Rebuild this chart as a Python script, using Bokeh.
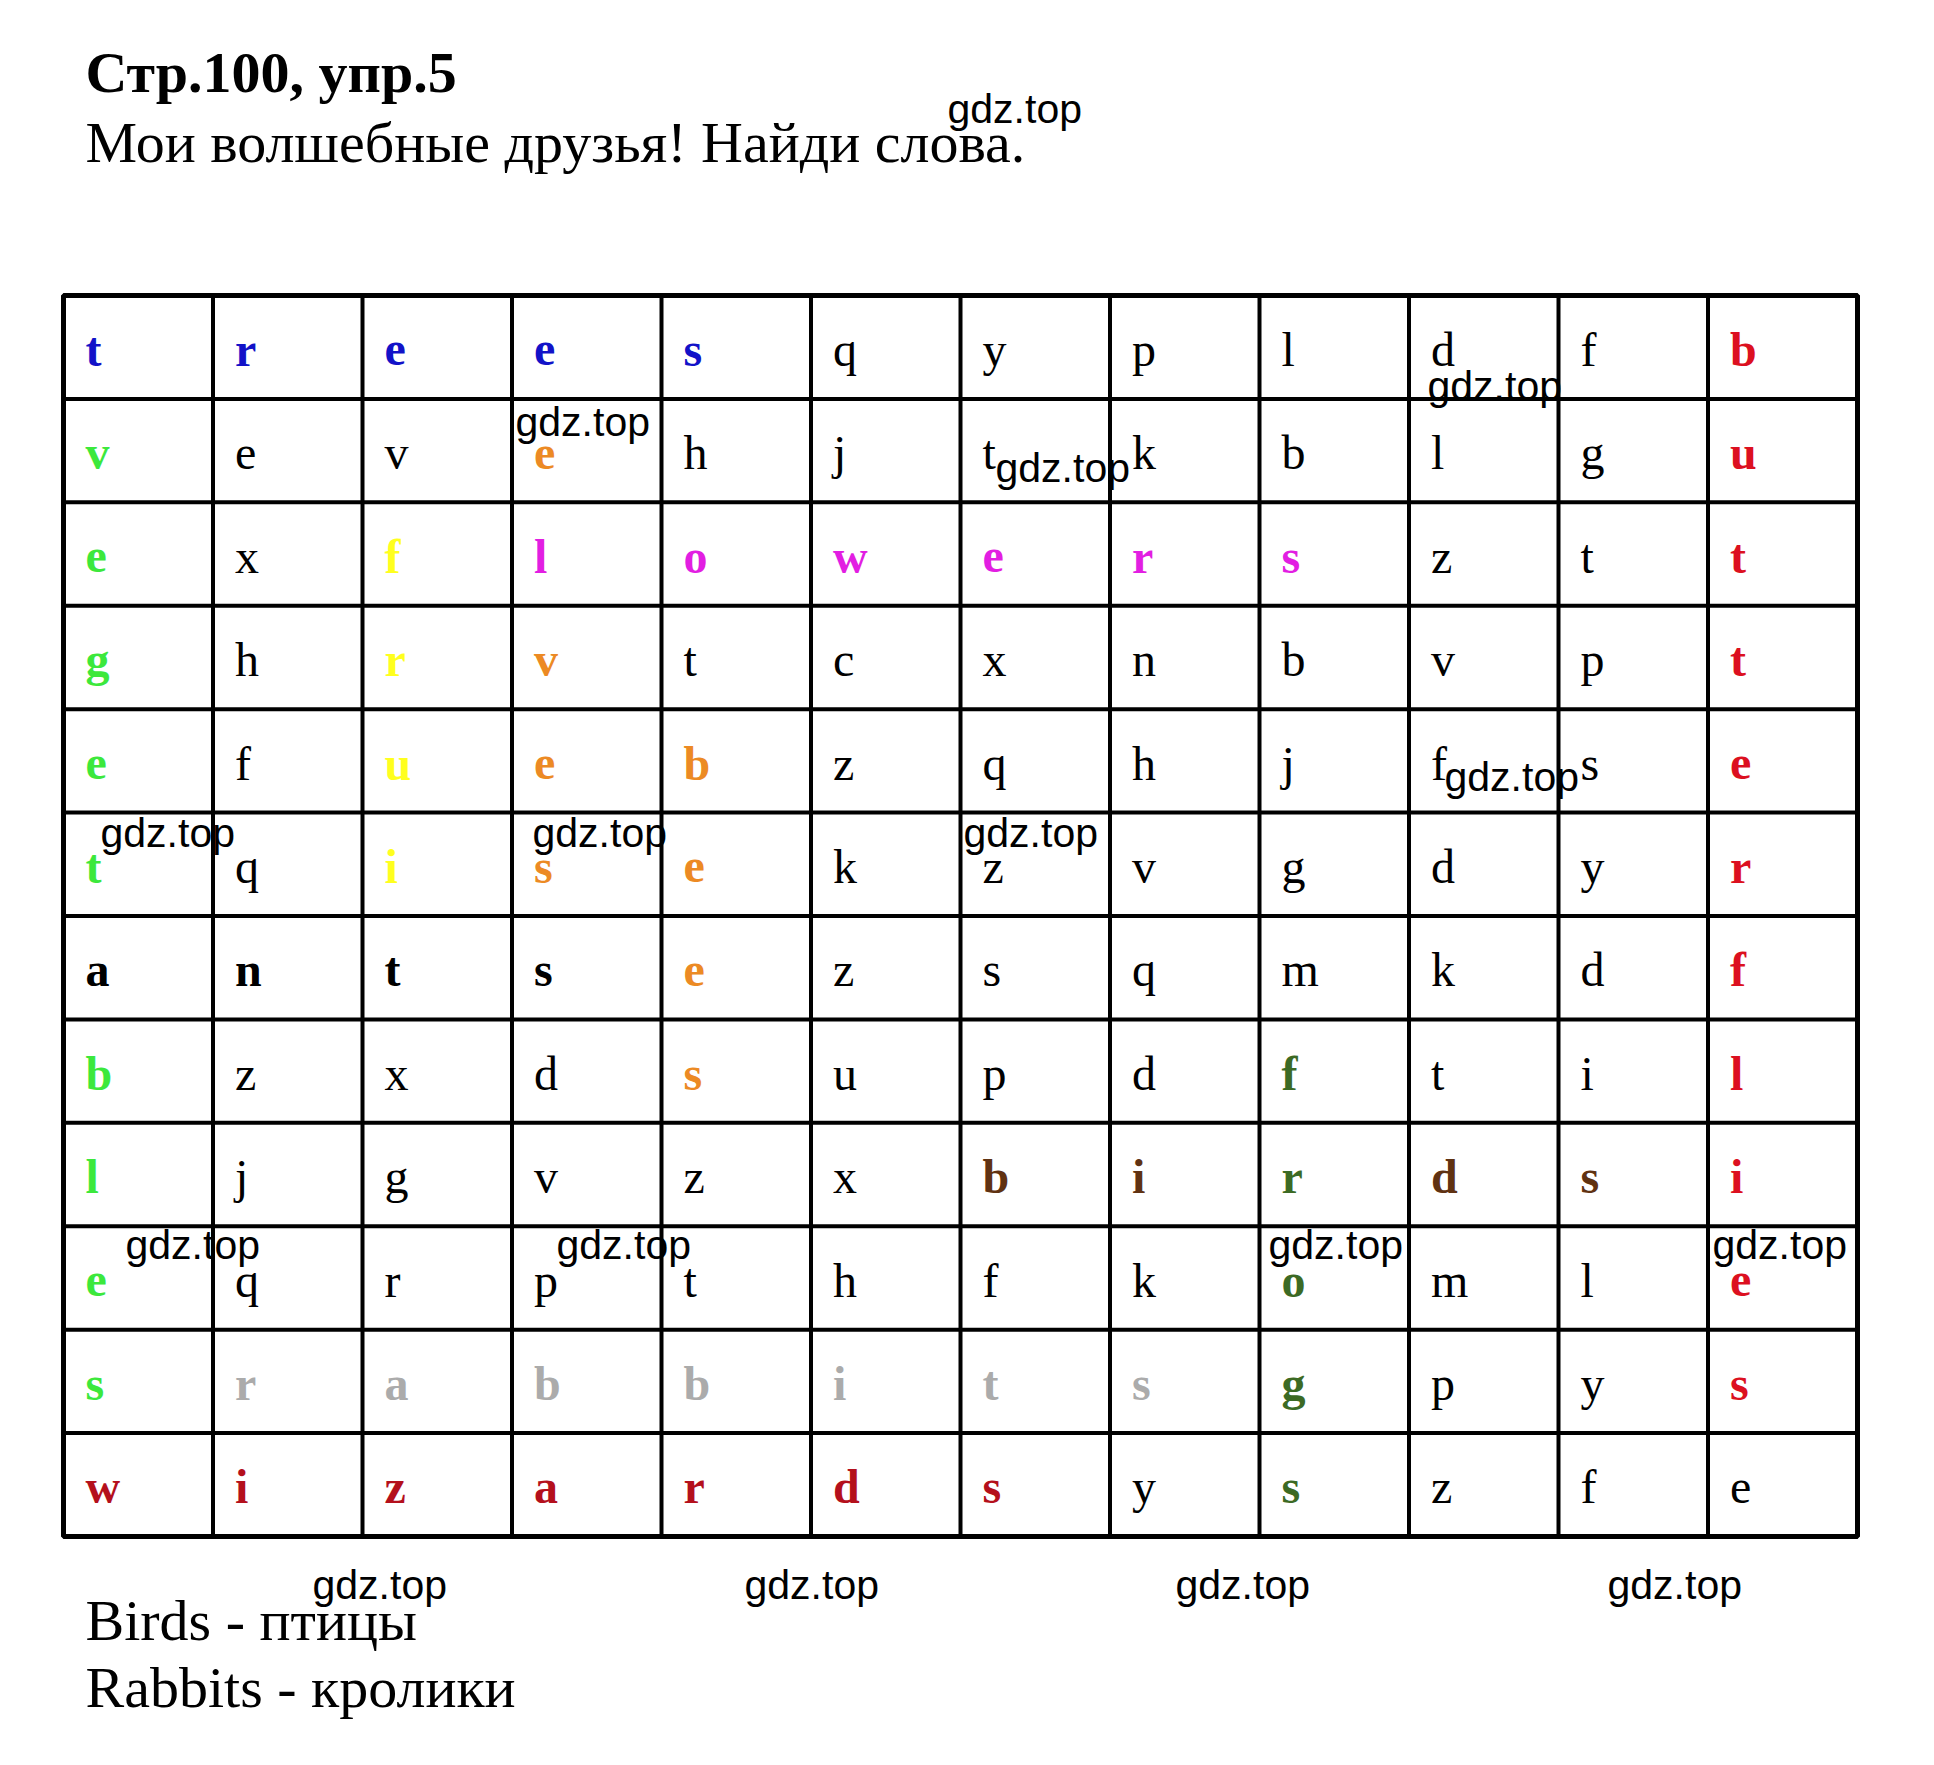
from bokeh.plotting import figure
from bokeh.models import ColumnDataSource, Range1d, Label
from bokeh.core.properties import value
from bokeh.embed import file_html
from bokeh.resources import INLINE

# ---------------- data ----------------
title_text = "Стр.100, упр.5"
subtitle_text = "Мои волшебные друзья! Найди слова."
footer_lines = ["Birds - птицы", "Rabbits - кролики"]
watermark = "gdz.top"

grid_rows = [
    "treesqypldfb",
    "vevehjtkblgu",
    "exflowersztt",
    "ghrvtcxnbvpt",
    "efuebzqhjfse",
    "tqisekzvgdyr",
    "antsezsqmkdf",
    "bzxdsupdftil",
    "ljgvzxbirdsi",
    "eqrpthfkomle",
    "srabbitsgpys",
    "wizardsyszfe",
]

# colour class of each cell ('.' = plain letter)
color_rows = [
    "BBBBB......R",
    "G..O.......R",
    "G.YMMMMMM..R",
    "G.YO.......R",
    "G.YOO......R",
    "G.YOO......R",
    "KKKKO......R",
    "G...O...D..R",
    "G.....NNDNNR",
    "G.......D..R",
    "GAAAAAAAD..R",
    "WWWWWWW.D...",
]

palette = {
    "B": "#1212C8",  # trees
    "G": "#3CE83C",  # vegetables
    "O": "#EC8A24",  # vegetables / bees
    "Y": "#FFFF1E",  # fruit
    "M": "#E21EE2",  # flowers
    "R": "#DC1020",  # butterflies
    "K": "#000000",  # ants
    "D": "#3C6A24",  # frogs
    "N": "#603212",  # birds
    "A": "#ABABAB",  # rabbits
    "W": "#B4101C",  # wizards
}

# ---------------- layout (page px) ----------------
W, H = 1918, 1749
GX0, GY0 = 63.0, 295.0          # grid top-left
CW, RH = 149.5, 103.42          # cell size
NR, NC = len(grid_rows), len(grid_rows[0])

p = figure(width=W, height=H, output_backend="svg", toolbar_location=None,
           x_range=Range1d(0, W), y_range=Range1d(H, 0), min_border=0)
p.axis.visible = False
p.xgrid.visible = False
p.ygrid.visible = False
p.outline_line_color = None
p.background_fill_color = "white"
p.border_fill_color = "white"

# grid lines
xs_v = [[GX0 + c * CW, GX0 + c * CW] for c in range(NC + 1)]
ys_v = [[GY0, GY0 + NR * RH] for c in range(NC + 1)]
xs_h = [[GX0, GX0 + NC * CW] for r in range(NR + 1)]
ys_h = [[GY0 + r * RH, GY0 + r * RH] for r in range(NR + 1)]
p.multi_line(xs_v + xs_h, ys_v + ys_h, line_color="black", line_width=4)
p.rect(x=GX0 + NC * CW / 2, y=GY0 + NR * RH / 2, width=NC * CW, height=NR * RH,
       fill_color=None, line_color="black", line_width=5)

# letters
plain = dict(x=[], y=[], t=[])
bold = dict(x=[], y=[], t=[], c=[])
for r, row in enumerate(grid_rows):
    for c, ch in enumerate(row):
        x = GX0 + c * CW + 22
        y = GY0 + r * RH + 0.68 * RH - 16.5
        cls = color_rows[r][c]
        if cls == ".":
            plain["x"].append(x); plain["y"].append(y); plain["t"].append(ch)
        else:
            bold["x"].append(x); bold["y"].append(y); bold["t"].append(ch)
            bold["c"].append(palette[cls])

p.text(x="x", y="y", text="t", source=ColumnDataSource(plain),
       text_font=value("Liberation Serif"), text_font_size="48px",
       text_color="black", text_align="left", text_baseline="alphabetic")
p.text(x="x", y="y", text="t", source=ColumnDataSource(bold),
       text_font=value("Liberation Serif"), text_font_size="48px",
       text_font_style="bold", text_color="c",
       text_align="left", text_baseline="alphabetic")

# headings
def serif_label(x, y, text, bold_style=False):
    return Label(x=x, y=y, text=text, text_font="Liberation Serif",
                 text_font_size="58px",
                 text_font_style="bold" if bold_style else "normal",
                 text_baseline="alphabetic", text_color="black")

p.add_layout(serif_label(85, 72, title_text, True))
p.add_layout(serif_label(85, 142, subtitle_text))
p.add_layout(serif_label(85, 1620, footer_lines[0]))
p.add_layout(serif_label(85, 1687, footer_lines[1]))

# watermarks (left x, vertical centre)
wm_pos = [(947, 108), (1427, 385), (515, 421), (995, 467), (1444, 776),
          (100, 832), (532, 832), (963, 832),
          (125, 1244), (556, 1244), (1268, 1244), (1712, 1244),
          (312, 1584), (744, 1584), (1175, 1584), (1607, 1584)]
for (wx, wy) in wm_pos:
    p.add_layout(Label(x=wx, y=wy, text=watermark, text_font="Liberation Sans",
                       text_font_size="41px", text_baseline="middle",
                       text_color="black"))

open("out.html", "w").write(file_html(p, INLINE))
